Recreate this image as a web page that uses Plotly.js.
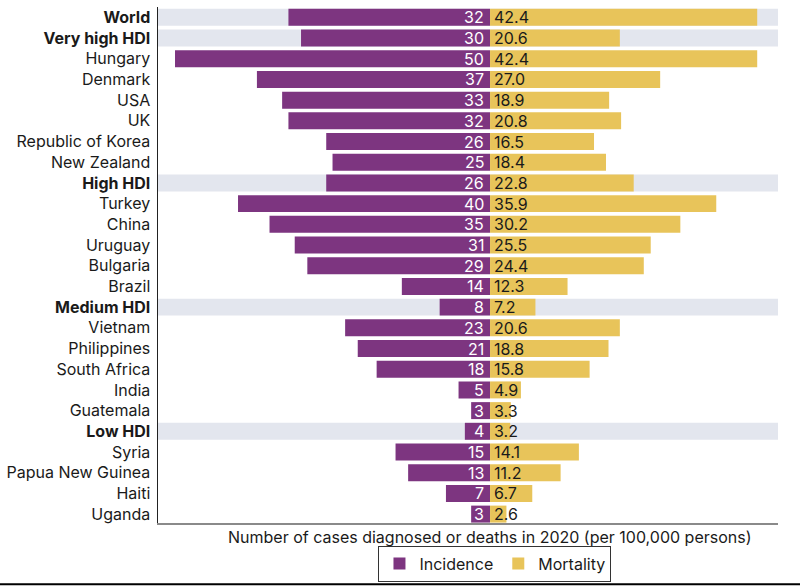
<!DOCTYPE html>
<html>
<head>
<meta charset="utf-8">
<script src="https://cdn.plot.ly/plotly-3.0.1.min.js"></script>
<style>html,body{margin:0;padding:0;background:#fff;}#chart{width:800px;height:586px;}</style>
</head>
<body>
<div id="chart"></div>
<script>
const categories = ["World","Very high HDI","Hungary","Denmark","USA","UK","Republic of Korea","New Zealand","High HDI","Turkey","China","Uruguay","Bulgaria","Brazil","Medium HDI","Vietnam","Philippines","South Africa","India","Guatemala","Low HDI","Syria","Papua New Guinea","Haiti","Uganda"];
const groupRows = ["World","Very high HDI","High HDI","Medium HDI","Low HDI"];
const incidence = [32,30,50,37,33,32,26,25,26,40,35,31,29,14,8,23,21,18,5,3,4,15,13,7,3];
const mortality = [42.4,20.6,42.4,27.0,18.9,20.8,16.5,18.4,22.8,35.9,30.2,25.5,24.4,12.3,7.2,20.6,18.8,15.8,4.9,3.3,3.2,14.1,11.2,6.7,2.6];
const mortalityLabels = ["42.4","20.6","42.4","27.0","18.9","20.8","16.5","18.4","22.8","35.9","30.2","25.5","24.4","12.3","7.2","20.6","18.8","15.8","4.9","3.3","3.2","14.1","11.2","6.7","2.6"];

const FONT = "Inter, 'Open Sans', sans-serif";
const PURPLE = "#7d3580", YELLOW = "#e8c45a", BAND = "#e3e6ee";
const FS = 16;

const traces = [
  {type:"bar", orientation:"h", name:"Incidence", y:categories, x:incidence.map(v=>-v),
   marker:{color:PURPLE}, hoverinfo:"skip", textposition:"none"},
  {type:"bar", orientation:"h", name:"Mortality", y:categories, x:mortality,
   marker:{color:YELLOW}, hoverinfo:"skip", textposition:"none"}
];

const shapes = [];
categories.forEach((c,i)=>{
  if (groupRows.includes(c)) {
    shapes.push({type:"rect", layer:"below", xref:"paper", yref:"y", x0:0, x1:1, y0:i-0.41, y1:i+0.41,
      fillcolor:BAND, line:{width:0}});
  }
});
shapes.push({type:"line", xref:"paper", yref:"paper", x0:-0.26, x1:1.04, y0:-0.1185, y1:-0.1185, line:{color:"#000", width:2}});

const annotations = [];
categories.forEach((c,i)=>{
  annotations.push({x:0, y:i, xref:"x", yref:"y", text:String(incidence[i]), showarrow:false,
    xanchor:"right", yanchor:"middle", xshift:-4, font:{family:FONT, size:FS, color:"#ffffff"}});
  annotations.push({x:0, y:i, xref:"x", yref:"y", text:mortalityLabels[i], showarrow:false,
    xanchor:"left", yanchor:"middle", xshift:2, font:{family:FONT, size:FS, color:"#1a1a1a"}});
});
annotations.push({x:0, xref:"x", y:-0.027, yref:"paper", yanchor:"middle", xanchor:"center", showarrow:false,
  text:"Number of cases diagnosed or deaths in 2020 (per 100,000 persons)", font:{family:FONT, size:FS, color:"#1a1a1a"}});

const layout = {
  width:800, height:586,
  margin:{l:158, r:22, t:7, b:63, autoexpand:false},
  paper_bgcolor:"#fff", plot_bgcolor:"#fff",
  barmode:"overlay", bargap:0.18,
  font:{family:FONT, size:FS, color:"#1a1a1a"},
  xaxis:{range:[-52.7,45.7], showticklabels:false, showgrid:false, zeroline:false, ticks:"",
    showline:true, linecolor:"#8a8a8a", linewidth:1.5, fixedrange:true},
  yaxis:{type:"category", range:[24.43,-0.5], tickmode:"array", tickvals:categories,
    ticktext:categories.map(c=>groupRows.includes(c)?"<b>"+c+"</b>":c),
    showgrid:false, zeroline:false, ticks:"", ticklabelstandoff:3,
    showline:true, linecolor:"#222", linewidth:1.5, tickfont:{family:FONT, size:FS, color:"#1a1a1a"}},
  showlegend:true,
  legend:{orientation:"h", x:0.5435, xanchor:"center", y:-0.0785, yanchor:"middle",
    bordercolor:"#333", borderwidth:1, font:{family:FONT, size:FS, color:"#1a1a1a"}, itemwidth:30, traceorder:"normal"},
  shapes:shapes, annotations:annotations
};
Plotly.newPlot("chart", traces, layout, {displayModeBar:false, staticPlot:true});
</script>
</body>
</html>
